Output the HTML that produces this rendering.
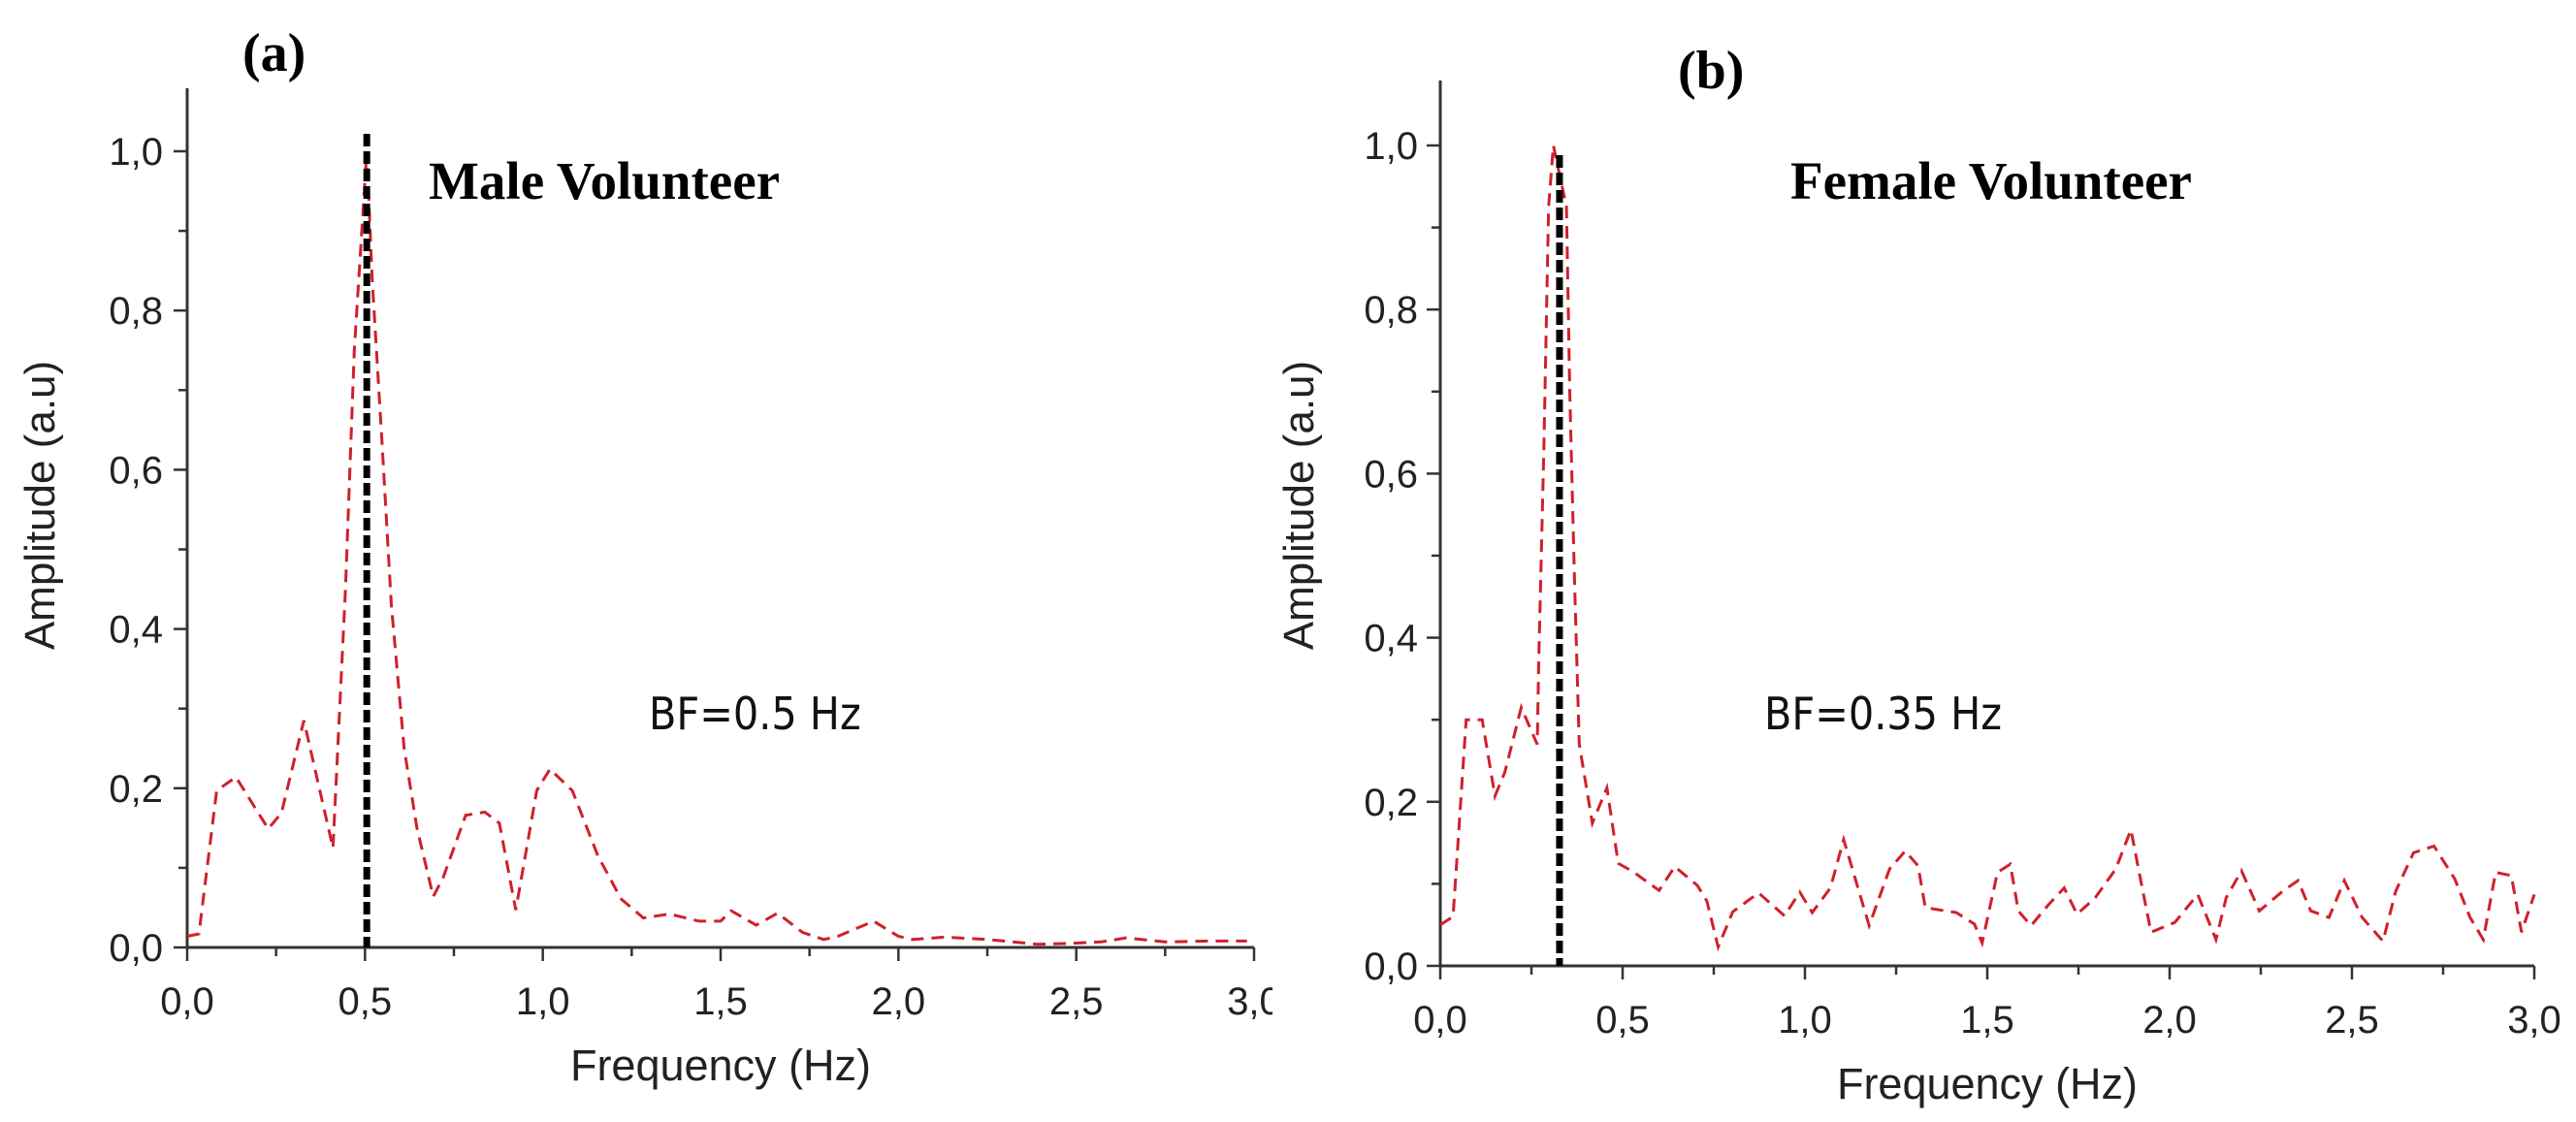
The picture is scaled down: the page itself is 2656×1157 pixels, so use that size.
<!DOCTYPE html>
<html><head><meta charset="utf-8"><style>
html,body{margin:0;padding:0;background:#fff;}
svg{display:block;}
</style></head><body>
<svg id="fig" width="2656" height="1157" viewBox="0 0 2656 1157" xmlns="http://www.w3.org/2000/svg">
<defs><clipPath id="clipA"><rect x="0" y="0" width="1312" height="1157"/></clipPath></defs>
<g id="panelA" clip-path="url(#clipA)"></g>
<g id="panelB"></g>
</svg>
<script>
const maleFreq = [0.0,0.033,0.083,0.137,0.228,0.265,0.328,0.41,0.445,0.47,0.505,0.52,0.547,0.574,0.61,0.646,0.692,0.72,0.783,0.837,0.878,0.924,0.983,1.02,1.083,1.155,1.22,1.283,1.356,1.44,1.5,1.53,1.6,1.66,1.73,1.79,1.83,1.93,2.0,2.04,2.13,2.25,2.39,2.48,2.57,2.64,2.75,2.87,2.98];
const maleAmp = [0.014,0.017,0.197,0.214,0.149,0.169,0.285,0.125,0.45,0.75,1.0,0.84,0.64,0.43,0.25,0.15,0.064,0.088,0.166,0.17,0.156,0.047,0.197,0.224,0.197,0.115,0.061,0.037,0.042,0.033,0.033,0.046,0.028,0.043,0.019,0.01,0.014,0.033,0.014,0.01,0.013,0.01,0.004,0.005,0.007,0.012,0.007,0.008,0.008];
const femaleFreq = [0.0,0.035,0.071,0.115,0.15,0.177,0.222,0.266,0.27,0.284,0.297,0.31,0.346,0.355,0.368,0.381,0.417,0.457,0.488,0.528,0.6,0.643,0.705,0.731,0.762,0.802,0.873,0.944,0.986,1.02,1.07,1.106,1.176,1.232,1.275,1.31,1.33,1.415,1.465,1.486,1.528,1.563,1.585,1.62,1.669,1.711,1.746,1.796,1.852,1.894,1.92,1.949,2.014,2.077,2.127,2.155,2.197,2.246,2.31,2.352,2.387,2.437,2.479,2.528,2.585,2.62,2.669,2.725,2.782,2.824,2.86,2.894,2.937,2.965,3.0];
const femaleAmp = [0.05,0.06,0.3,0.3,0.207,0.236,0.315,0.27,0.37,0.63,0.925,1.0,0.925,0.7,0.47,0.27,0.174,0.217,0.125,0.115,0.092,0.121,0.098,0.079,0.023,0.066,0.089,0.061,0.09,0.065,0.095,0.154,0.049,0.118,0.14,0.122,0.071,0.065,0.051,0.028,0.114,0.124,0.067,0.049,0.075,0.095,0.063,0.083,0.118,0.166,0.106,0.041,0.053,0.087,0.032,0.083,0.116,0.067,0.091,0.104,0.067,0.059,0.104,0.059,0.03,0.091,0.138,0.146,0.106,0.059,0.032,0.114,0.11,0.041,0.087];
const xTickLabels = ["0,0","0,5","1,0","1,5","2,0","2,5","3,0"];
const xTickValues = [0,0.5,1,1.5,2,2.5,3];
const yTickLabels = ["0,0","0,2","0,4","0,6","0,8","1,0"];
const yTickValues = [0,0.2,0.4,0.6,0.8,1.0];
const maleBF = [0.505];
const femaleBF = [0.327];

const NS="http://www.w3.org/2000/svg";
function mk(parent,tag,attrs,text){const e=document.createElementNS(NS,tag);for(const k in attrs)e.setAttribute(k,attrs[k]);if(text!==undefined)e.textContent=text;parent.appendChild(e);return e;}

function drawPanel(g,cfg){
  const sx=v=>cfg.x0+(v/3)*(cfg.x3-cfg.x0);
  const sy=v=>cfg.y0-v*(cfg.y0-cfg.y1);
  let a=mk(g,'line',{x1:cfg.x0,y1:cfg.top,x2:cfg.x0,y2:cfg.y0+1.5,stroke:'#333','stroke-width':3});
  
  
  a=mk(g,'line',{x1:cfg.x0-1.5,y1:cfg.y0,x2:cfg.x3,y2:cfg.y0,stroke:'#333','stroke-width':3});
  
  
  for(let i=0;i<=12;i++){
    const v=i*0.25, major=i%2===0;
    const t=mk(g,'line',{x1:sx(v),x2:sx(v),y1:cfg.y0,y2:cfg.y0+(major?14:9),stroke:'#333','stroke-width':2.5});
    
    
  }
  xTickLabels.forEach((lab,i)=>{
    const t=mk(g,'text',{x:sx(xTickValues[i]),y:cfg.xLabY,'text-anchor':'middle','font-family':'Liberation Sans, sans-serif','font-size':40,fill:'#222'},lab);
    
    
  });
  for(let i=0;i<=10;i++){
    const v=i*0.1, major=i%2===0;
    const t=mk(g,'line',{x1:cfg.x0,x2:cfg.x0-(major?14:9),y1:sy(v),y2:sy(v),stroke:'#333','stroke-width':2.5});
    
    
  }
  yTickLabels.forEach((lab,i)=>{
    const t=mk(g,'text',{x:cfg.yLabX,y:sy(yTickValues[i])+14,'text-anchor':'end','font-family':'Liberation Sans, sans-serif','font-size':40,fill:'#222'},lab);
    
    
  });
  const pts=cfg.fx.map((f,i)=>sx(f).toFixed(1)+','+sy(cfg.amp[i]).toFixed(1)).join(' ');
  const s=mk(g,'polyline',{points:pts,fill:'none',stroke:'#d0202a','stroke-width':3,'stroke-dasharray':'13 8'});
  
  
  const bf=mk(g,'line',{x1:sx(cfg.bf[0]),x2:sx(cfg.bf[0]),y1:cfg.bfTop,y2:cfg.y0,stroke:'#000','stroke-width':7,'stroke-dasharray':'13 5'});
  
  
  let t=mk(g,'text',{x:(cfg.x0+cfg.x3)/2,y:cfg.xTitleY,'text-anchor':'middle','font-family':'Liberation Sans, sans-serif','font-size':45,fill:'#222'},'Frequency (Hz)');
  
  
  t=mk(g,'text',{x:cfg.yTitleX,y:521,'text-anchor':'middle','font-family':'Liberation Sans, sans-serif','font-size':44,fill:'#222',transform:'rotate(-90 '+cfg.yTitleX+' 521)'},'Amplitude (a.u)');
  
  
  t=mk(g,'text',{x:cfg.tagX,y:cfg.tagY,'font-family':'Liberation Serif, serif','font-weight':'bold','font-size':56,fill:'#000'},cfg.tag);
  
  
  t=mk(g,'text',{x:cfg.titleX,y:205,'font-family':'Liberation Serif, serif','font-weight':'bold','font-size':55,fill:'#000'},cfg.title);
  
  
  t=mk(g,'text',{x:cfg.bfX,y:752,'font-family':'DejaVu Sans Condensed, DejaVu Sans, sans-serif','font-size':46,fill:'#111'},cfg.bfText);
  
  
}
drawPanel(document.getElementById('panelA'),{x0:193,x3:1293,y0:977,y1:156,top:91,xLabY:1046,yLabX:168,xTitleY:1114,yTitleX:56,fx:maleFreq,amp:maleAmp,bf:maleBF,bfTop:138,tag:'(a)',tagX:250,tagY:73,title:'Male Volunteer',titleX:442,bfX:669,bfText:'BF=0.5 Hz'});
drawPanel(document.getElementById('panelB'),{x0:1485,x3:2613,y0:996,y1:150,top:83,xLabY:1065,yLabX:1462,xTitleY:1133,yTitleX:1354,fx:femaleFreq,amp:femaleAmp,bf:femaleBF,bfTop:160,tag:'(b)',tagX:1730,tagY:91,title:'Female Volunteer',titleX:1846,bfX:1819,bfText:'BF=0.35 Hz'});
</script>
</body></html>
